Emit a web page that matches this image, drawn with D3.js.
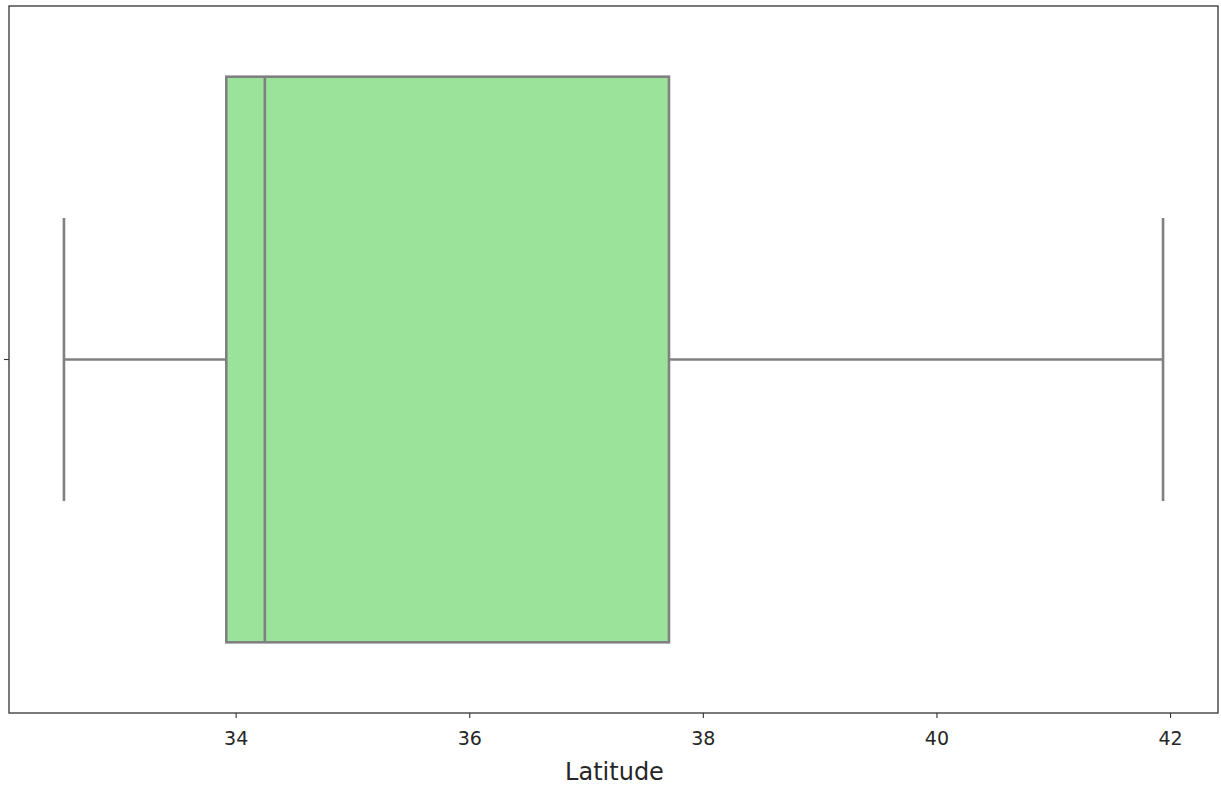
<!DOCTYPE html>
<html>
<head>
<meta charset="utf-8">
<script src="https://cdn.jsdelivr.net/npm/d3@7"></script>
<style>
  html, body { margin: 0; padding: 0; background: #fff; }
  svg { display: block; }
  text { font-family: "DejaVu Sans", sans-serif; fill: #262626; }
</style>
</head>
<body>
<svg id="chart" width="1221" height="791"></svg>
<script>
// Five-number summary of latitude
const statNames = ["min", "q1", "median", "q3", "max"];
const statValues = [32.53, 33.92, 34.25, 37.71, 41.94];
const xTicks = [34, 36, 38, 40, 42];
const xLabel = "Latitude";

const W = 1221, H = 791;
const margin = { top: 6, right: 3, bottom: 78, left: 9 };
const stat = Object.fromEntries(statNames.map((k, i) => [k, statValues[i]]));

const svg = d3.select("#chart");
const iw = W - margin.left - margin.right;
const ih = H - margin.top - margin.bottom;
const g = svg.append("g").attr("transform", `translate(${margin.left},${margin.top})`);

// x domain padded by 5% on each side of the data range
const span = stat.max - stat.min;
const x = d3.scaleLinear()
  .domain([stat.min - 0.05 * span, stat.max + 0.05 * span])
  .range([0, iw]);

// single categorical row
const y = d3.scaleBand().domain(["Latitude"]).range([0, ih]).paddingInner(0).paddingOuter(0);
const cy = y("Latitude") + y.bandwidth() / 2;
const boxH = y.bandwidth() * 0.8;
const capH = boxH / 2;

const lineColor = "#808080";
const lw = 2.6;

// whiskers
g.append("line")
  .attr("x1", x(stat.min)).attr("x2", x(stat.q1))
  .attr("y1", cy).attr("y2", cy)
  .attr("stroke", lineColor).attr("stroke-width", lw);
g.append("line")
  .attr("x1", x(stat.q3)).attr("x2", x(stat.max))
  .attr("y1", cy).attr("y2", cy)
  .attr("stroke", lineColor).attr("stroke-width", lw);

// caps
[stat.min, stat.max].forEach(v => {
  g.append("line")
    .attr("x1", x(v)).attr("x2", x(v))
    .attr("y1", cy - capH / 2).attr("y2", cy + capH / 2)
    .attr("stroke", lineColor).attr("stroke-width", lw);
});

// box
g.append("rect")
  .attr("x", x(stat.q1)).attr("y", cy - boxH / 2)
  .attr("width", x(stat.q3) - x(stat.q1)).attr("height", boxH)
  .attr("fill", "#9be29b")
  .attr("stroke", lineColor).attr("stroke-width", lw);

// median
g.append("line")
  .attr("x1", x(stat.median)).attr("x2", x(stat.median))
  .attr("y1", cy - boxH / 2).attr("y2", cy + boxH / 2)
  .attr("stroke", lineColor).attr("stroke-width", lw);

// frame
g.append("rect")
  .attr("x", 0).attr("y", 0).attr("width", iw).attr("height", ih)
  .attr("fill", "none").attr("stroke", "#333").attr("stroke-width", 1.3);

// x axis
const xAxis = g.append("g")
  .attr("transform", `translate(0,${ih})`)
  .call(d3.axisBottom(x).tickValues(xTicks).tickFormat(d3.format("d")).tickSize(5).tickPadding(5));
xAxis.select(".domain").remove();
xAxis.selectAll(".tick line").attr("stroke", "#333").attr("stroke-width", 1.1);
xAxis.selectAll(".tick text")
  .attr("font-size", 19).attr("font-family", "DejaVu Sans").attr("fill", "#262626")
  .attr("dy", null).attr("y", 0)
  .attr("dominant-baseline", "central")
  .attr("transform", "translate(0,25)");

// y axis: one unlabeled tick
const yAxis = g.append("g")
  .call(d3.axisLeft(y).tickSize(5).tickFormat(""));
yAxis.select(".domain").remove();
yAxis.selectAll(".tick line").attr("stroke", "#333").attr("stroke-width", 1.1);

// axis title
g.append("text")
  .attr("x", iw / 2 + 1).attr("y", ih + 59)
  .attr("text-anchor", "middle")
  .attr("dominant-baseline", "central")
  .attr("font-size", 24)
  .text(xLabel);
</script>
</body>
</html>
